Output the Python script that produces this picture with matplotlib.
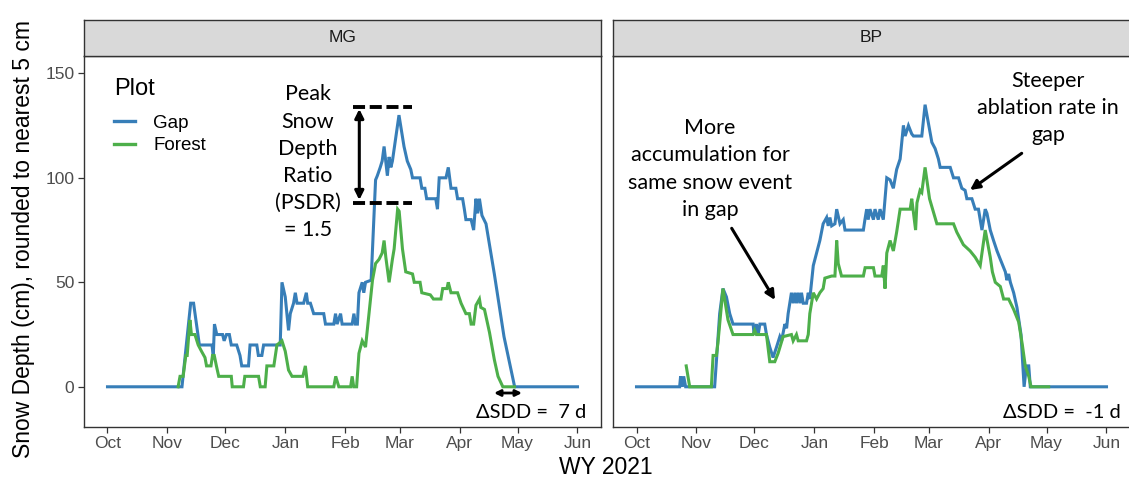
import matplotlib
matplotlib.use("Agg")
import matplotlib.pyplot as plt
import matplotlib.dates as mdates
from matplotlib.lines import Line2D
from matplotlib.patches import FancyArrowPatch
import pandas as pd

# ---------------- data (days since 1 Oct 2020, snow depth cm) ----------------
mg_gap_day = [0, 38.5, 43, 44.5, 47.5, 54, 54.7, 55.3, 56.5, 59.5, 60.3, 61.5, 63, 64, 66.8, 68.5,
              69.4, 72.9, 73.7, 77.2, 78, 79.8, 80.7, 89.3, 90.2, 91.9, 93.6, 94.5, 96.2, 97.1, 98,
              101.4, 102.8, 103.5, 104.9, 106.6, 111.8, 112.7, 117, 117.9, 118.7, 120.5, 121.3,
              126.5, 127.4, 128.2, 129.2, 130, 131.7, 132.5, 133.4, 136.3, 138.6, 139.5, 141, 142,
              143, 144.7, 145.6, 146.5, 147.3, 150.7, 153.3, 155, 156.8, 157.7, 161.6, 162.5, 164.1,
              165, 169.7, 170.6, 171.5, 175, 176.2, 177.6, 180.1, 181, 183.6, 184.5, 185.3, 188,
              189.3, 190.5, 191.4, 192.3, 193.6, 195.7, 200, 205, 210.5, 243]
mg_gap_depth = [0, 0, 40, 40, 20, 20, 15, 30, 25, 25, 22, 25, 25, 20, 20, 15,
                10, 10, 20, 20, 15, 15, 20, 20, 50, 43, 27, 35, 40, 45, 40,
                40, 45, 40, 40, 35, 35, 30, 30, 35, 30, 35, 30,
                30, 35, 30, 30, 45, 50, 45, 50, 51, 99, 101, 105, 108,
                115, 101, 110, 105, 108, 130, 115, 108, 104, 100, 100, 95, 95,
                90, 90, 85, 100, 100, 105, 95, 95, 90, 90, 85, 80, 80,
                75, 90, 83, 90, 82, 78, 54, 24, 0, 0]

mg_forest_day = [36.5, 37.5, 39.1, 40.5, 41.2, 42.6, 43.4, 45.2, 46.9, 48.6, 50.4, 51.2, 53.5, 54.3,
                 55.2, 56.3, 57.5, 64, 64.5, 70.3, 71, 78.1, 79, 81.5, 82.4, 86, 87.6, 90.2, 91.9,
                 93.6, 95.4, 101, 102.3, 103.5, 117, 118, 119.6, 125.7, 126.5, 127.3, 128.8, 130,
                 131.7, 133.4, 135.2, 137, 138.6, 140.4, 142, 143, 143.9, 145.6, 147.3, 148.2, 150,
                 150.8, 152.5, 154.2, 157.7, 158.6, 161.6, 162.5, 166.9, 168.5, 172.4, 173.3, 175.5,
                 176.2, 177.6, 181, 182.8, 185.3, 187.1, 188, 189.3, 190.5, 192.3, 193, 194.9, 197.5,
                 200, 201.9, 204.4, 210.4]
mg_forest_depth = [0, 5, 5, 15, 15, 32, 25, 25, 20, 17, 14, 10, 10, 15,
                   15, 10, 5, 5, 0, 0, 5, 5, 0, 0, 10, 10, 20, 22, 17,
                   8, 5, 5, 10, 0, 0, 5, 0, 0, 5, 0, 0, 16,
                   22, 19, 35, 51, 59, 61, 64, 70, 62, 50, 61, 66, 85,
                   84, 66, 55, 54, 50, 50, 45, 44, 42, 42, 47, 47,
                   50, 45, 45, 40, 35, 35, 30, 30, 39, 42, 38, 37, 26,
                   13, 5, 0, 0]

bp_gap_day = [0, 22.3, 22.8, 23.7, 24.4, 25.4, 40.4, 43, 44.7, 46.5, 48.2, 49.9, 60.3, 60.8, 62,
              62.9, 63.8, 66.3, 67.2, 68.9, 70.6, 72.4, 74.1, 75, 76.7, 77.6, 78.4, 80.1, 81, 81.9,
              82.7, 83.6, 84.5, 85.3, 86.2, 87.9, 88.8, 89.6, 91.4, 93.1, 94.8, 96.5, 98.3, 99.1,
              100, 100.9, 102.6, 103.5, 105.2, 106.9, 107.8, 117.3, 118.1, 119, 119.8, 120.7,
              122.5, 123.3, 125, 125.9, 127.6, 129.4, 131.1, 132.8, 134.5, 136.3, 138, 138.9,
              140.6, 142.3, 143.2, 147.5, 149.2, 152.7, 154.4, 156.1, 157, 162.2, 163.9, 166.5,
              168.2, 169.9, 170.8, 173.4, 175.1, 176.8, 178.6, 180.3, 181.2, 182.9, 184.6, 186.4,
              188.1, 190.7, 191.5, 192.4, 193.3, 195, 196.7, 198.8, 200.4, 201.6, 202.8, 203.6, 243]
bp_gap_depth = [0, 0, 5, 0, 5, 0, 0, 35, 47, 43, 35, 30, 30, 25, 30,
                25, 30, 30, 25, 19, 14, 19, 24, 22, 30, 28, 35, 45, 40, 45,
                40, 45, 40, 45, 40, 40, 45, 42, 58, 64, 70, 78, 81, 77,
                81, 77, 78, 85, 78, 80, 75, 75, 80, 85, 80, 85,
                80, 85, 80, 85, 80, 100, 99, 95, 104, 109, 125, 120,
                125, 121, 120, 120, 135, 117, 114, 109, 105, 105, 100, 100,
                95, 94, 90, 90, 85, 85, 75, 85, 83, 75, 70, 65,
                61, 55, 51, 54, 50, 45, 38, 25, 0, 10, 10, 0, 0]

bp_forest_day = [25.7, 27.5, 38.7, 39.6, 41.3, 42.1, 44.7, 47.3, 49.9, 60.3, 61.1, 62, 67.2, 68.9,
                 71.5, 73.2, 75.8, 80.1, 81, 82.7, 83.6, 87.9, 88.8, 89.6, 91.4, 93.1, 94.8, 96.5,
                 97.4, 100.9, 102.6, 103.5, 104.3, 106, 117.3, 118.2, 122.5, 123.3, 126.8, 127.6,
                 128.5, 129.4, 131.1, 132.8, 134.5, 136.3, 141.5, 142.3, 144.3, 145, 146.6, 147.5,
                 149.2, 151.5, 155.3, 163.9, 165.6, 169, 172.5, 175.1, 177.7, 180.3, 182.9, 184,
                 185.5, 188.1, 189.8, 192.4, 195, 197.6, 199.5, 201, 202.8, 204, 213.1]
bp_forest_depth = [10, 0, 0, 15, 15, 21, 47, 32, 25, 25, 27, 25, 25, 12,
                   12, 16, 24, 25, 22, 25, 22, 22, 25, 35, 45, 42, 45, 47,
                   52, 53, 53, 70, 59, 53, 53, 57, 57, 53, 53, 58,
                   47, 64, 70, 65, 74, 85, 85, 90, 75, 88, 94, 93,
                   105, 90, 78, 78, 74, 68, 65, 62, 58, 75, 62, 55,
                   50, 48, 42, 42, 37, 31, 20, 10, 5, 0, 0]

sites = ["MG", "BP"]
series_labels = ["Gap", "Forest"]
month_ticks = ["2020-10-01", "2020-11-01", "2020-12-01", "2021-01-01", "2021-02-01",
               "2021-03-01", "2021-04-01", "2021-05-01", "2021-06-01"]
sdd_labels = ["\u0394SDD =  7 d", "\u0394SDD =  -1 d"]

# ---------------- figure ----------------
W, H = 1129, 482
fig = plt.figure(figsize=(W / 100, H / 100), dpi=100)
fig.patch.set_facecolor("white")

start = pd.Timestamp("2020-10-01")
def to_dates(days):
    return [start + pd.Timedelta(days=d) for d in days]

def fx(x):
    return x / W
def fy(y):
    return 1 - y / H

GAP_C = "#377EB8"
FOR_C = "#4DAF4A"
TXT_GRAY = "#4D4D4D"
EDGE = "#333333"
ggfont = "Liberation Sans"
annfont = "Lato"

panel_left = [84, 613]
panel_w = 517
panel_top, panel_bot = 56, 426.7
strip_top = 20

data = {
    "MG": (mg_gap_day, mg_gap_depth, mg_forest_day, mg_forest_depth),
    "BP": (bp_gap_day, bp_gap_depth, bp_forest_day, bp_forest_depth),
}

xlo = start - pd.Timedelta(days=12.15)
xhi = start + pd.Timedelta(days=255.15)

axes = []
for i, site in enumerate(sites):
    l = panel_left[i]
    ax = fig.add_axes([fx(l), fy(panel_bot), panel_w / W, (panel_bot - panel_top) / H])
    gd, gv, fd, fv = data[site]
    ax.plot(to_dates(gd), gv, color=GAP_C, lw=2.2, label=series_labels[0], solid_joinstyle="miter")
    ax.plot(to_dates(fd), fv, color=FOR_C, lw=2.2, label=series_labels[1], solid_joinstyle="miter")
    ax.set_xlim(xlo, xhi)
    ax.set_ylim(-19.1, 158.3)
    ax.set_xticks([pd.Timestamp(t) for t in month_ticks])
    ax.xaxis.set_major_formatter(mdates.DateFormatter("%b"))
    ax.set_yticks([0, 50, 100, 150])
    for sp in ax.spines.values():
        sp.set_color(EDGE)
        sp.set_linewidth(1.0)
    ax.tick_params(axis="both", direction="out", length=4, width=0.9, color=EDGE,
                   labelsize=12.5, labelcolor=TXT_GRAY, pad=3)
    for lab in ax.get_xticklabels() + ax.get_yticklabels():
        lab.set_fontfamily(ggfont)
    if i == 1:
        ax.tick_params(axis="y", labelleft=False, length=0)
    # strip
    sax = fig.add_axes([fx(l), fy(panel_top), panel_w / W, (panel_top - strip_top) / H])
    sax.set_facecolor("#D9D9D9")
    sax.set_xticks([]); sax.set_yticks([])
    for sp in sax.spines.values():
        sp.set_color(EDGE)
        sp.set_linewidth(1.0)
    sax.text(0.5, 0.5, site, ha="center", va="center", fontsize=12.5, color="#1A1A1A",
             family=ggfont, transform=sax.transAxes)
    axes.append(ax)

# legend
leg = axes[0].legend(loc="upper left", bbox_to_anchor=(fx(114), fy(78)),
                     bbox_transform=fig.transFigure, frameon=False, title="Plot",
                     prop={"family": ggfont, "size": 13.5}, handlelength=1.1,
                     handletextpad=1.0, labelspacing=0.28, borderpad=0, borderaxespad=0,
                     alignment="left")
leg.get_title().set_fontsize(17)
leg.get_title().set_fontfamily(ggfont)
leg._legend_box.sep = 10.5
for h in leg.get_lines():
    h.set_linewidth(2.4)

# axis titles
fig.text(fx(24), fy(239), "Snow Depth (cm), rounded to nearest 5 cm", rotation=90,
         ha="center", va="center", fontsize=16.5, family=ggfont, color="black")
fig.text(fx(606), fy(467), "WY 2021", ha="center", va="center", fontsize=16.5,
         family=ggfont, color="black")

# ---------------- annotations ----------------
def fline(xs, ys, **kw):
    fig.add_artist(Line2D([fx(x) for x in xs], [fy(y) for y in ys],
                          transform=fig.transFigure, **kw))

def farrow(p0, p1, style, ms=14, lw=2.2):
    fig.add_artist(FancyArrowPatch((fx(p0[0]), fy(p0[1])), (fx(p1[0]), fy(p1[1])),
                                   transform=fig.transFigure, arrowstyle=style,
                                   mutation_scale=ms, color="black", lw=lw,
                                   shrinkA=0, shrinkB=0))

# PSDR
fline([353, 412], [106.7, 106.7], color="black", lw=2.8, dashes=(3.1, 1.2))
fline([353, 412], [202.7, 202.7], color="black", lw=2.8, dashes=(3.1, 1.2))
farrow((359.3, 109), (359.3, 200), "<|-|>", ms=13)
fig.text(fx(308), fy(162.5), "Peak\nSnow\nDepth\nRatio\n(PSDR)\n= 1.5", ha="center", va="center",
         fontsize=15.5, family=annfont, linespacing=1.45, color="black")

# SDD
farrow((494, 393), (522, 393), "<|-|>", ms=9, lw=2.0)
fig.text(fx(586), fy(413), sdd_labels[0], ha="right", va="center", fontsize=14.5,
         family=annfont, color="black")
fig.text(fx(1121), fy(413), sdd_labels[1], ha="right", va="center", fontsize=14.5,
         family=annfont, color="black")

# BP notes
fig.text(fx(710), fy(169), "More\naccumulation for\nsame snow event\nin gap", ha="center",
         va="center", fontsize=15.5, family=annfont, linespacing=1.45, color="black")
farrow((731.7, 228.3), (775, 300), "-|>", ms=14)
fig.text(fx(1048), fy(108), "Steeper\nablation rate in\ngap", ha="center", va="center",
         fontsize=15.5, family=annfont, linespacing=1.45, color="black")
farrow((1021.7, 153.3), (970, 190), "-|>", ms=14)

fig.savefig("out.png", dpi=100, facecolor="white")
